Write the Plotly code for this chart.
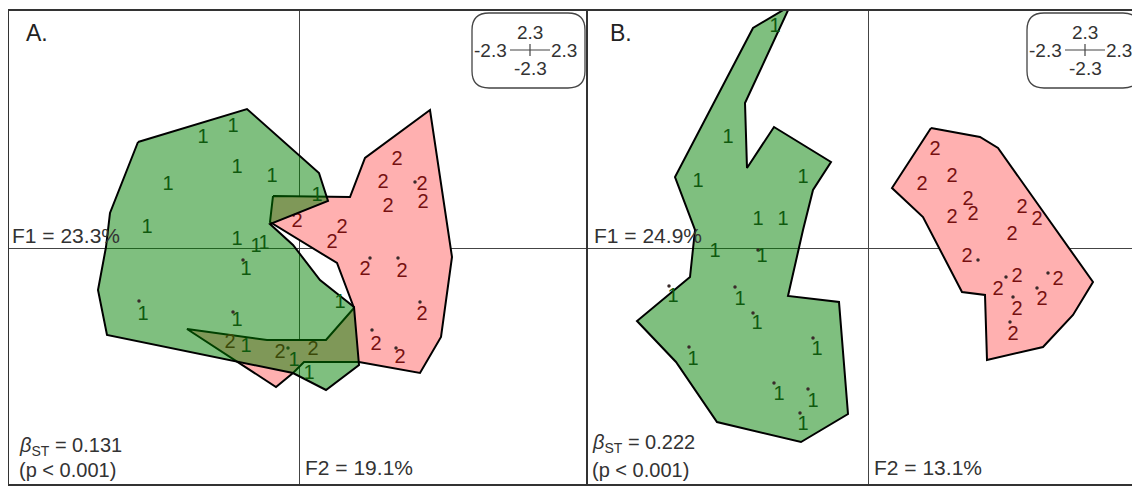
import plotly.graph_objects as go

# ---- panel A (F1 = 23.3%, F2 = 19.1%) ----
# population 1 (green) polygon
a1_poly_x = [-16.1, -5.2, 2.0, 2.9, -2.9, -0.6, 2.1, 5.5, 6.0, 2.7, -0.6, -19.2, -20.1, -19.3, -18.9, -16.1]
a1_poly_y = [10.6, 13.9, 7.5, 4.7, 2.4, 0.3, -3.2, -5.9, -11.7, -14.2, -12.5, -8.7, -4.2, 0.1, 3.5, 10.6]
# population 2 (pink) polygon
a2_poly_x = [-2.6, -2.9, 3.8, 5.5, 2.7, -3.2, -11.2, -2.3, -0.6, 0.5, 6.0, 12.1, 14.2, 15.3, 13.1, 6.6, 5.1, -2.6]
a2_poly_y = [5.2, 2.6, -1.5, -6.0, -9.2, -9.2, -8.1, -13.9, -12.5, -11.4, -11.4, -12.5, -8.9, -0.9, 13.8, 9.0, 5.1, 5.2]

# label positions of individuals
a1_x = [-9.6, -6.6, -13.1, -6.2, -2.7, -15.2, -6.2, -4.3, -3.5, 1.8, -5.3, -15.6, -6.2, 4.1, -5.3, -0.5, 1.0]
a1_y = [11.0, 12.1, 6.3, 8.0, 7.1, 2.0, 0.8, 0.1, 0.4, 5.2, -2.2, -6.7, -7.3, -5.5, -9.9, -11.3, -12.6]
a2_x = [9.8, 8.4, 12.3, 8.9, 12.4, 4.3, 3.3, -0.2, 6.6, 10.3, 12.3, 7.7, 10.1, -6.9, -1.9, 1.4]
a2_y = [8.8, 6.5, 6.3, 4.1, 4.5, 2.0, 0.5, 2.6, -2.2, -2.4, -6.7, -9.7, -11.0, -9.5, -10.5, -10.2]
# visible point dots
a1_dot_x = [-5.6, -16.0, -6.6]
a1_dot_y = [-1.2, -5.3, -6.4]
a2_dot_x = [11.6, 7.1, 9.9, 12.1, 7.3, 9.7, -1.1]
a2_dot_y = [6.6, -1.0, -1.0, -5.4, -8.2, -10.0, -10.0]

# ---- panel B (F1 = 24.9%, F2 = 13.1%) ----
b1_poly_x = [-7.8, -11.5, -19.3, -17.3, -17.8, -23.1, -19.2, -15.1, -6.7, -2.0, -2.9, -8.0, -6.5, -5.5, -3.7, -9.4, -12.1, -12.3, -7.8]
b1_poly_y = [24.2, 22.0, 7.1, 1.8, -2.9, -7.3, -11.4, -17.4, -19.4, -16.6, -5.4, -4.8, 1.8, 5.8, 8.6, 12.1, 8.0, 14.5, 24.2]
b2_poly_x = [6.3, 11.2, 13.0, 22.5, 20.5, 17.5, 11.9, 11.7, 9.4, 5.5, 2.4, 6.3]
b2_poly_y = [12.0, 11.1, 10.0, -3.4, -6.7, -9.9, -11.2, -4.7, -4.4, 3.1, 6.0, 12.0]

b1_x = [-9.3, -14.0, -17.0, -6.5, -11.0, -8.5, -15.3, -10.6, -19.5, -12.8, -11.1, -17.5, -5.1, -8.9, -5.5, -6.5]
b1_y = [22.1, 11.0, 6.6, 7.0, 2.8, 2.8, -0.4, -0.9, -4.9, -5.2, -7.6, -11.2, -10.2, -14.7, -15.4, -17.7]
b2_x = [6.7, 5.4, 8.4, 10.0, 8.4, 10.5, 15.4, 16.9, 14.4, 9.9, 14.9, 13.0, 19.0, 14.9, 17.4, 14.5]
b2_y = [9.8, 6.3, 7.1, 4.8, 3.0, 3.3, 4.0, 2.8, 1.3, -0.9, -2.9, -4.2, -3.2, -6.2, -5.2, -8.7]
b1_dot_x = [-11.0, -19.9, -13.3, -11.5, -17.9, -5.5, -9.4, -6.0, -6.8]
b1_dot_y = [-0.2, -3.8, -3.9, -6.5, -9.9, -9.0, -13.5, -14.1, -16.5]
b2_dot_x = [11.0, 13.8, 18.0, 14.5, 16.9, 14.2]
b2_dot_y = [-1.2, -2.9, -2.5, -4.9, -4.0, -7.4]

panel_letters = ["A.", "B."]
f1_labels = ["F1 = 23.3%", "F1 = 24.9%"]
f2_labels = ["F2 = 19.1%", "F2 = 13.1%"]
beta_labels = ["0.131", "0.222"]
p_labels = ["(p < 0.001)", "(p < 0.001)"]
scale_val = 2.3

GREEN_FILL = "rgba(0,128,0,0.5)"
PINK_FILL = "#ffb0b0"
GREEN_TXT = "#0f5a0f"
PINK_TXT = "#761010"
FONT = "Liberation Sans, Arial, sans-serif"

fig = go.Figure()


def add_group(xa, ya, px, py, lx, ly, dx, dy, fill, txtcol, label):
    fig.add_trace(go.Scatter(x=px, y=py, xaxis=xa, yaxis=ya, mode="lines", fill="toself",
                             fillcolor=fill, line=dict(color="black", width=2),
                             hoverinfo="skip", showlegend=False))
    fig.add_trace(go.Scatter(x=dx, y=dy, xaxis=xa, yaxis=ya, mode="markers",
                             marker=dict(size=3.5, color="#3a2a2a"),
                             hoverinfo="skip", showlegend=False))
    fig.add_trace(go.Scatter(x=lx, y=ly, xaxis=xa, yaxis=ya, mode="text",
                             text=[label] * len(lx), textposition="middle center",
                             textfont=dict(family=FONT, size=20, color=txtcol),
                             hoverinfo="skip", showlegend=False))


# pink first, green (translucent) drawn over it
add_group("x", "y", a2_poly_x, a2_poly_y, a2_x, a2_y, a2_dot_x, a2_dot_y, PINK_FILL, PINK_TXT, "2")
add_group("x", "y", a1_poly_x, a1_poly_y, a1_x, a1_y, a1_dot_x, a1_dot_y, GREEN_FILL, GREEN_TXT, "1")
add_group("x2", "y2", b2_poly_x, b2_poly_y, b2_x, b2_y, b2_dot_x, b2_dot_y, PINK_FILL, PINK_TXT, "2")
add_group("x2", "y2", b1_poly_x, b1_poly_y, b1_x, b1_y, b1_dot_x, b1_dot_y, GREEN_FILL, GREEN_TXT, "1")

# the page body adds 8px, margins compensate for that
split = 579 / 1140
ax_style = dict(showgrid=False, showticklabels=False, ticks="", zeroline=True,
                zerolinecolor="#444", zerolinewidth=1.2, showline=False, fixedrange=True)
fig.update_layout(
    width=1140, height=486,
    margin=dict(l=0, r=0, t=2, b=9),
    paper_bgcolor="white", plot_bgcolor="white",
    font=dict(family=FONT, color="#333"),
    xaxis=dict(domain=[0, split], range=[-29.1, 28.8], **ax_style),
    yaxis=dict(domain=[0, 1], range=[-23.7, 23.8], **ax_style),
    xaxis2=dict(domain=[split, 1], range=[-28.1, 28.0], anchor="y2", **ax_style),
    yaxis2=dict(domain=[0, 1], range=[-23.7, 23.8], anchor="x2", **ax_style),
)

shapes = []
annotations = []
panels = [("x", "y", 23.1, 19.8), ("x2", "y2", 21.7, 19.8)]
for i, (xa, ya, cx, cy) in enumerate(panels):
    xd, yd = xa + " domain", ya + " domain"
    # frame
    shapes.append(dict(type="rect", xref=xd, yref=yd, x0=0, x1=1, y0=0, y1=1,
                       line=dict(color="#333", width=2), layer="above"))
    # scale box with rounded corners
    x0, x1, y0, y1, r = cx - 5.8, cx + 5.5, cy - 3.8, cy + 3.7, 1.7
    path = (f"M{x0 + r},{y0} L{x1 - r},{y0} Q{x1},{y0} {x1},{y0 + r} L{x1},{y1 - r} "
            f"Q{x1},{y1} {x1 - r},{y1} L{x0 + r},{y1} Q{x0},{y1} {x0},{y1 - r} "
            f"L{x0},{y0 + r} Q{x0},{y0} {x0 + r},{y0} Z")
    shapes.append(dict(type="path", xref=xa, yref=ya, path=path,
                       line=dict(color="#444", width=1.3)))
    shapes.append(dict(type="line", xref=xa, yref=ya, x0=cx - 2.0, x1=cx + 2.0, y0=cy, y1=cy,
                       line=dict(color="#444", width=1.2)))
    shapes.append(dict(type="line", xref=xa, yref=ya, x0=cx, x1=cx, y0=cy - 0.6, y1=cy + 0.6,
                       line=dict(color="#444", width=1.2)))
    sv = f"{scale_val}"
    for tx, ty, t in [(cx, cy + 1.8, sv), (cx, cy - 1.8, "-" + sv),
                      (cx - 4.0, cy, "-" + sv), (cx + 3.4, cy, sv)]:
        annotations.append(dict(x=tx, y=ty, xref=xa, yref=ya, text=t, showarrow=False,
                                font=dict(size=19, color="#333"), xanchor="center", yanchor="middle"))
    # panel letter
    annotations.append(dict(x=-27.5 if i == 0 else -26.0, y=21.5, xref=xa, yref=ya,
                            text=panel_letters[i], showarrow=False,
                            font=dict(size=23, color="#222"), xanchor="left", yanchor="middle"))
    # axis inertia labels
    annotations.append(dict(x=-28.9 if i == 0 else -27.6, y=1.3, xref=xa, yref=ya,
                            text=f1_labels[i], showarrow=False,
                            font=dict(size=21, color="#333"), xanchor="left", yanchor="middle"))
    annotations.append(dict(x=0.4, y=-21.9, xref=xa, yref=ya,
                            text=f2_labels[i], showarrow=False,
                            font=dict(size=21, color="#333"), xanchor="left", yanchor="middle"))
    annotations.append(dict(x=-28.2 if i == 0 else -27.8, y=-19.8 if i == 0 else -19.5, xref=xa, yref=ya,
                            text=f"<i>β</i><sub>ST</sub> = {beta_labels[i]}", showarrow=False,
                            font=dict(size=20, color="#333"), xanchor="left", yanchor="middle"))
    annotations.append(dict(x=-28.2 if i == 0 else -27.8, y=-22.2, xref=xa, yref=ya,
                            text=p_labels[i], showarrow=False,
                            font=dict(size=20, color="#333"), xanchor="left", yanchor="middle"))

fig.update_layout(shapes=shapes, annotations=annotations)
fig.write_html("out.html")
